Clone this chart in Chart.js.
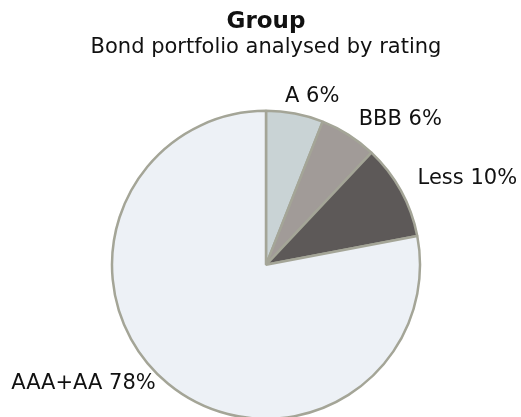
<!DOCTYPE html>
<html>
<head>
<meta charset="utf-8">
<script src="https://cdn.jsdelivr.net/npm/chart.js@4.4.0/dist/chart.umd.min.js"></script>
<style>
    html, body { margin: 0; padding: 0; background: #fff; overflow: hidden; }
    #wrap { width: 521px; height: 417px; }
</style>
</head>
<body>
<div id="wrap"><canvas id="ratingChart"></canvas></div>
<script>
// Bond portfolio by rating (share of portfolio, %)
const ratingLabels = ['A', 'BBB', 'Less', 'AAA+AA'];
const ratingShares = [6, 6, 10, 78];
const sliceColors = ['#c9d3d5', '#a19b98', '#5d5958', '#edf1f6'];

const fontFamily = '"DejaVu Sans", Verdana, sans-serif';
const clamp = (v, lo, hi) => Math.max(lo, Math.min(hi, v));

// Excel-style "best fit" labels outside each slice: "A 6%"
const outsideLabels = {
    id: 'outsideLabels',
    afterDatasetsDraw(chart) {
        const ctx = chart.ctx;
        const meta = chart.getDatasetMeta(0);
        ctx.save();
        ctx.font = '21px ' + fontFamily;
        ctx.fillStyle = '#111';
        ctx.textAlign = 'center';
        ctx.textBaseline = 'middle';
        meta.data.forEach((arc, i) => {
            const p = arc.getProps(['x', 'y', 'startAngle', 'endAngle', 'outerRadius'], true);
            const mid = (p.startAngle + p.endAngle) / 2;
            const cos = Math.cos(mid), sin = Math.sin(mid);
            const text = ratingLabels[i] + ' ' + ratingShares[i] + '%';
            const w = ctx.measureText(text).width, h = 16;
            // box centre pushed out from the rim, half its size in the slice direction
            const x = p.x + cos * (p.outerRadius + 19) + w / 2 * clamp(cos * 2.7, -1, 1);
            let y = p.y + sin * (p.outerRadius + 9) + h / 2 * clamp(sin * 2.7, -1, 1);
            y = Math.min(y, chart.height - 25 - h / 2);
            ctx.fillText(text, x, y);
        });
        ctx.restore();
    }
};

new Chart(document.getElementById('ratingChart'), {
    type: 'pie',
    data: {
        labels: ratingLabels,
        datasets: [{
            data: ratingShares,
            backgroundColor: sliceColors,
            borderColor: '#a4a597',
            borderWidth: 2.5,
            clip: false
        }]
    },
    options: {
        responsive: true,
        maintainAspectRatio: false,
        animation: false,
        events: [],
        radius: 154,
        layout: { padding: { left: 11, right: 0, top: 0, bottom: 0 } },
        plugins: {
            legend: { display: false },
            tooltip: { enabled: false },
            title: {
                display: true,
                text: 'Group',
                color: '#111',
                font: { family: fontFamily, size: 23, weight: 'bold', lineHeight: 1.2 },
                padding: { top: 8, bottom: 0 }
            },
            subtitle: {
                display: true,
                text: 'Bond portfolio analysed by rating',
                color: '#111',
                font: { family: fontFamily, size: 21, lineHeight: 1.1 },
                padding: { top: 0, bottom: 54 }
            }
        }
    },
    plugins: [outsideLabels]
});
</script>
</body>
</html>
